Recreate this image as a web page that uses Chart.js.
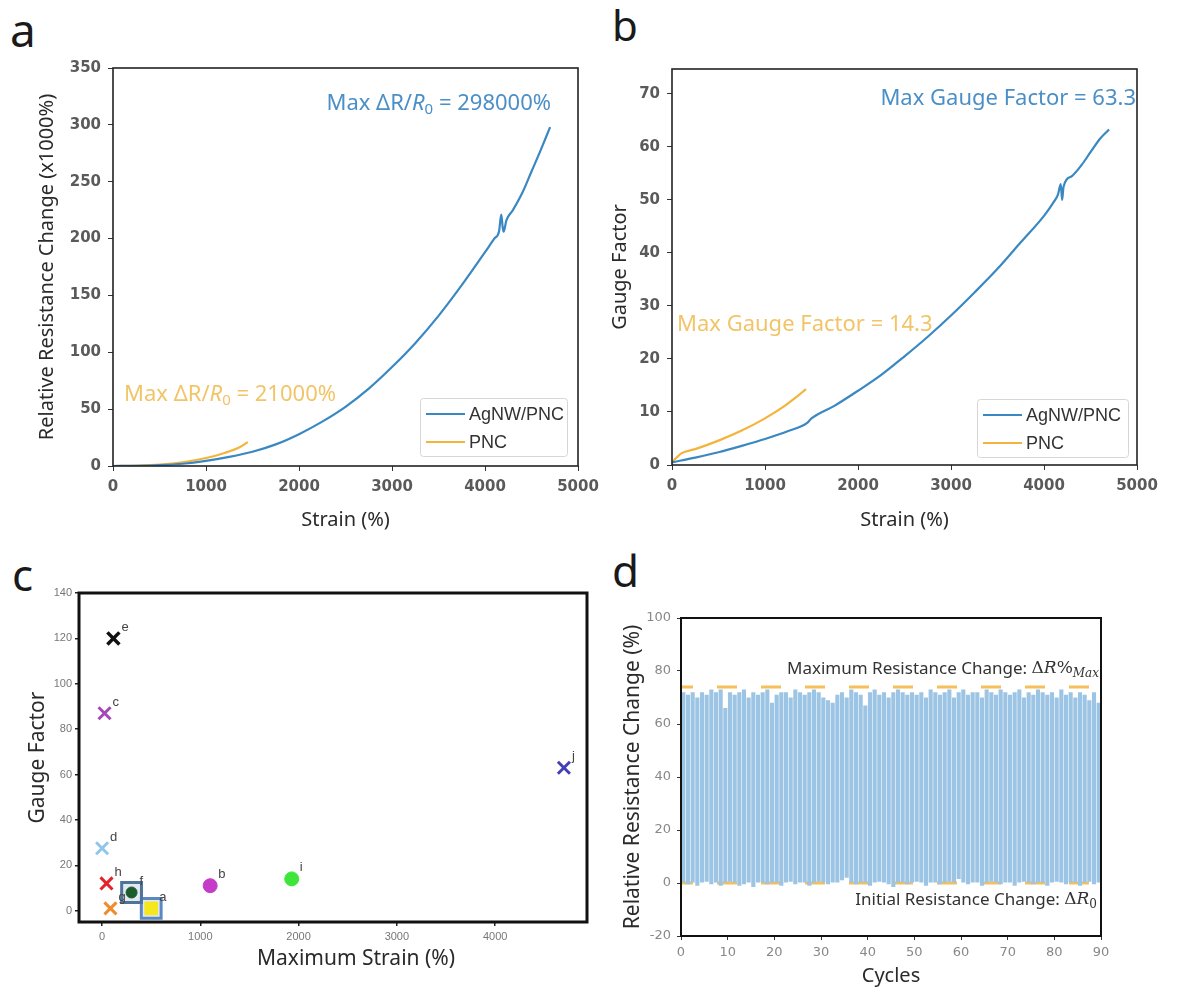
<!DOCTYPE html>
<html>
<head>
<meta charset="utf-8">
<script src="https://cdn.jsdelivr.net/npm/chart.js@4.4.1/dist/chart.umd.min.js"></script>
<style>
  html, body { margin: 0; padding: 0; background: #fff; }
  #page { position: relative; width: 1184px; height: 992px; overflow: hidden; background: #fff; }
  #page canvas { position: absolute; }
  .letter { position: absolute; font-family: "Noto Sans", sans-serif; color: #1a1a1a; line-height: 1; }
</style>
</head>
<body>
<div id="page">
  <div class="letter" style="left:10px;top:6px;font-size:46px;">a</div>
  <div class="letter" style="left:612px;top:4px;font-size:42px;">b</div>
  <div class="letter" style="left:12px;top:552px;font-size:44px;">c</div>
  <div class="letter" style="left:612px;top:548px;font-size:44px;">d</div>
  <canvas id="chartA" width="610" height="540" style="left:0;top:0;"></canvas>
  <canvas id="chartB" width="588" height="540" style="left:596px;top:0;"></canvas>
  <canvas id="chartC" width="604" height="432" style="left:0;top:560px;"></canvas>
  <canvas id="chartD" width="588" height="432" style="left:596px;top:560px;"></canvas>
</div>
<script>
// ---- panel a: relative resistance change (x1000%) vs strain (%)
const aStrainAg = [0, 250, 500, 750, 1000, 1250, 1500, 1750, 2000, 2250, 2500, 2750, 3000, 3250, 3500, 3750, 4000, 4100, 4150, 4175, 4190, 4200, 4230, 4300, 4400, 4500, 4600, 4700];
const aRelAg = [0, 0.2, 0.8, 2, 4.5, 8, 12.5, 19, 28, 39, 52, 68, 87, 108, 132, 159, 188, 200, 206, 221, 210, 206, 216, 225, 240, 259, 278, 298];
const aStrainPnc = [0, 250, 500, 750, 1000, 1200, 1350, 1450];
const aRelPnc = [0, 0.3, 1.2, 3.3, 7, 11.5, 16, 21];
const aXTicks = [0, 1000, 2000, 3000, 4000, 5000];
const aYTicks = [0, 50, 100, 150, 200, 250, 300, 350];

// ---- panel b: gauge factor vs strain (%)
const bStrainAg = [0, 250, 500, 750, 1000, 1250, 1450, 1500, 1750, 2000, 2250, 2500, 2750, 3000, 3250, 3500, 3750, 4000, 4100, 4150, 4180, 4195, 4210, 4300, 4400, 4500, 4600, 4700];
const bGfAg = [0.5, 1.4, 2.4, 3.6, 4.9, 6.4, 7.9, 8.8, 11.2, 14, 17, 20.5, 24.2, 28.2, 32.5, 37, 42, 47, 49.5, 51, 53, 50, 52.5, 54.5, 56.5, 59, 61.5, 63.3];
const bStrainPnc = [0, 50, 100, 250, 500, 750, 1000, 1200, 1350, 1440];
const bGfPnc = [0.5, 1.4, 2.2, 3, 4.6, 6.5, 8.8, 11, 13, 14.3];
const bXTicks = [0, 1000, 2000, 3000, 4000, 5000];
const bYTicks = [0, 10, 20, 30, 40, 50, 60, 70];

// ---- panel c: gauge factor vs maximum strain, literature comparison
const cLabels = ["a", "b", "c", "d", "e", "f", "g", "h", "i", "j"];
const cStrain = [500, 1100, 25, 0, 115, 300, 85, 45, 1930, 4700];
const cGauge = [1, 11, 87, 27.5, 120, 8, 1, 12, 14, 63];
const cXTicks = [0, 1000, 2000, 3000, 4000];
const cYTicks = [0, 20, 40, 60, 80, 100, 120, 140];

// ---- panel d: cyclic relative resistance change (%), per-cycle peak and valley
const dPeaks = [72, 71, 72, 70, 72, 71, 73, 72, 73, 66, 72, 71, 72, 73, 70, 72, 71, 72, 73, 68,
  71, 72, 72, 70, 73, 72, 71, 72, 73, 72, 70, 69, 68, 71, 72, 70, 73, 72, 71, 67,
  72, 73, 71, 72, 70, 72, 73, 72, 71, 72, 71, 72, 70, 73, 72, 71, 72, 73, 70, 72,
  73, 71, 72, 72, 70, 73, 72, 71, 73, 72, 71, 72, 73, 70, 72, 71, 73, 72, 71, 72,
  70, 73, 71, 72, 70, 72, 71, 69, 72, 68];
const dValleys = [0, -0.5, 0, -1, 0, 0.5, -0.5, 0, -1, 0, 0.5, 0, -1, -0.5, 0, -1.5, 0, 0, -0.5, 0,
  0, -1, 0, 0.5, -0.5, 0, 0, -1, 0, 0.5, 0, -0.5, 0, 0, 1, 2, 0, -0.5, 0, 0,
  -1, 0, 0.5, 0, -0.5, -1.5, 0, 0, -0.5, 0, 0.5, 0, -1, 0, 0, -0.5, 0, 0.5, 0, 1.5,
  0, -0.5, 0, 0, -1, 0, 0.5, 0, -0.5, 0, 0, -1, 0, 0.5, 0, -0.5, 0, 0, -1, 0,
  0.5, 0, -0.5, 0, 0, -1, 0, 0.5, -0.5, 0];
const dMaxLevel = 74;
const dInitLevel = 0;
const dXTicks = [0, 10, 20, 30, 40, 50, 60, 70, 80, 90];
const dYTicks = [-20, 0, 20, 40, 60, 80, 100];

const BLUE = "#3a88c2";
const ORANGE = "#f4b43c";
const SANS = '"Noto Sans", sans-serif';

function zip(xs, ys) {
  return xs.map((x, i) => ({ x: x, y: ys[i] }));
}

function fixedTicks(list) {
  return (scale) => { scale.ticks = list.map((v) => ({ value: v })); };
}

const plainLabel = (v) => String(v);

function framePlugin(color, width) {
  return {
    id: "frame",
    afterDraw(chart) {
      const { ctx, chartArea: c } = chart;
      ctx.save();
      ctx.strokeStyle = color;
      ctx.lineWidth = width;
      ctx.strokeRect(c.left, c.top, c.right - c.left, c.bottom - c.top);
      ctx.restore();
    },
  };
}

// draws a run of differently styled text pieces (used for R0 subscripts etc.)
function drawRich(ctx, parts, x, y, align) {
  let total = 0;
  parts.forEach((p) => { ctx.font = p.font; p.w = ctx.measureText(p.t).width; total += p.w; });
  let cx = align === "right" ? x - total : x;
  ctx.textBaseline = "middle";
  ctx.textAlign = "left";
  parts.forEach((p) => {
    ctx.font = p.font;
    ctx.fillStyle = p.color;
    ctx.fillText(p.t, cx, y + (p.dy || 0));
    cx += p.w;
  });
}

function maxRParts(value, color) {
  return [
    { t: "Max ΔR/", font: "22px " + SANS, color: color },
    { t: "R", font: "italic 22px " + SANS, color: color },
    { t: "0", font: "15px " + SANS, color: color, dy: 6 },
    { t: " = " + value, font: "22px " + SANS, color: color },
  ];
}

function legendPlugin(rightGap, bottomGap, boxW) {
  return {
    id: "boxLegend",
    afterDraw(chart) {
      const { ctx, chartArea: c } = chart;
      const right = c.right - rightGap;
      const bottom = c.bottom - bottomGap;
      const left = right - boxW;
      const top = bottom - 58;
      ctx.save();
      ctx.fillStyle = "rgba(255,255,255,0.9)";
      ctx.strokeStyle = "#d6d6d6";
      ctx.lineWidth = 1;
      ctx.beginPath();
      ctx.roundRect(left + 0.5, top + 0.5, boxW, 58, 3);
      ctx.fill();
      ctx.stroke();
      chart.data.datasets.forEach((ds, i) => {
        const y = top + 16 + i * 28;
        ctx.strokeStyle = ds.borderColor;
        ctx.lineWidth = 2.2;
        ctx.beginPath();
        ctx.moveTo(left + 6, y);
        ctx.lineTo(left + 45, y);
        ctx.stroke();
        ctx.fillStyle = "#333";
        ctx.font = '18px "Liberation Sans", Arial, sans-serif';
        ctx.textBaseline = "middle";
        ctx.textAlign = "left";
        ctx.fillText(ds.label, left + 49, y + 1);
      });
      ctx.restore();
    },
  };
}

function strainScales(xTicks, yTicks, yMax, yWidth, xHeight, yTitle, yTitlePad) {
  const tickFont = { family: '"DejaVu Sans", sans-serif', size: 15, weight: "bold" };
  const grid = { display: true, drawOnChartArea: false, drawTicks: true, tickLength: 5, color: "#333" };
  return {
    x: {
      type: "linear", min: 0, max: 5000,
      afterBuildTicks: fixedTicks(xTicks),
      afterFit: (s) => { s.height = xHeight; },
      grid: grid, border: { display: false },
      ticks: { color: "#5a5a5a", font: tickFont, padding: 7, maxRotation: 0, callback: plainLabel },
      title: { display: true, text: "Strain (%)", color: "#2a2a2a", font: { family: SANS, size: 20 }, padding: { top: 0, bottom: 8 } },
    },
    y: {
      type: "linear", min: 0, max: yMax,
      afterBuildTicks: fixedTicks(yTicks),
      afterFit: (s) => { s.width = yWidth; },
      grid: grid, border: { display: false },
      ticks: { color: "#5a5a5a", font: tickFont, padding: 7, callback: plainLabel },
      title: { display: true, text: yTitle, color: "#2a2a2a", font: { family: SANS, size: 20 }, padding: { top: yTitlePad, bottom: 0 } },
    },
  };
}

function lineSet(label, data, color) {
  return {
    label: label, data: data, borderColor: color, backgroundColor: color,
    borderWidth: 2.2, pointRadius: 0, cubicInterpolationMode: "monotone",
  };
}

// ---------------- panel a
new Chart(document.getElementById("chartA"), {
  type: "line",
  data: {
    datasets: [
      lineSet("AgNW/PNC", zip(aStrainAg, aRelAg), BLUE),
      lineSet("PNC", zip(aStrainPnc, aRelPnc), ORANGE),
    ],
  },
  options: {
    responsive: false, animation: false, events: [],
    layout: { padding: { left: 0, top: 68, right: 32, bottom: 0 } },
    scales: strainScales(aXTicks, aYTicks, 350, 113, 74, "Relative Resistance Change (x1000%)", 35),
    plugins: { legend: { display: false }, tooltip: { enabled: false } },
  },
  plugins: [
    framePlugin("#222", 1.6),
    legendPlugin(11, 10, 147),
    {
      id: "notes",
      afterDraw(chart) {
        const ctx = chart.ctx;
        ctx.save();
        drawRich(ctx, maxRParts("298000%", "#4b8fc6"), 551, 104, "right");
        drawRich(ctx, maxRParts("21000%", "#f2c468"), 124, 395, "left");
        ctx.restore();
      },
    },
  ],
});

// ---------------- panel b
new Chart(document.getElementById("chartB"), {
  type: "line",
  data: {
    datasets: [
      lineSet("AgNW/PNC", zip(bStrainAg, bGfAg), BLUE),
      lineSet("PNC", zip(bStrainPnc, bGfPnc), ORANGE),
    ],
  },
  options: {
    responsive: false, animation: false, events: [],
    layout: { padding: { left: 0, top: 69, right: 47, bottom: 0 } },
    scales: strainScales(bXTicks, bYTicks, 74.7, 76, 75, "Gauge Factor", 12),
    plugins: { legend: { display: false }, tooltip: { enabled: false } },
  },
  plugins: [
    framePlugin("#222", 1.6),
    legendPlugin(9, 8, 151),
    {
      id: "notes",
      afterDraw(chart) {
        const ctx = chart.ctx;
        ctx.save();
        ctx.font = "22px " + SANS;
        ctx.textBaseline = "middle";
        ctx.textAlign = "right";
        ctx.fillStyle = "#4b8fc6";
        ctx.fillText("Max Gauge Factor = 63.3", 540, 99);
        ctx.textAlign = "left";
        ctx.fillStyle = "#f2c468";
        ctx.fillText("Max Gauge Factor = 14.3", 81, 325);
        ctx.restore();
      },
    },
  ],
});

// ---------------- panel c
const cStyle = {
  a: { pointStyle: "rect", radius: 9, bg: "#f4e71d", border: "#f4e71d", bw: 1 },
  b: { pointStyle: "circle", radius: 7, bg: "#c53cc9", border: "#c53cc9", bw: 1 },
  c: { pointStyle: "crossRot", radius: 8.5, bg: "#a548b8", border: "#a548b8", bw: 3 },
  d: { pointStyle: "crossRot", radius: 8.5, bg: "#8fc6ea", border: "#8fc6ea", bw: 3 },
  e: { pointStyle: "crossRot", radius: 8.5, bg: "#111", border: "#111", bw: 3.5 },
  f: { pointStyle: "circle", radius: 5.5, bg: "#1e5b2c", border: "#1e5b2c", bw: 1 },
  g: { pointStyle: "crossRot", radius: 8.5, bg: "#f08c2c", border: "#f08c2c", bw: 3 },
  h: { pointStyle: "crossRot", radius: 8.5, bg: "#e3232c", border: "#e3232c", bw: 3 },
  i: { pointStyle: "circle", radius: 7, bg: "#3ee63a", border: "#3ee63a", bw: 1 },
  j: { pointStyle: "crossRot", radius: 8.5, bg: "#4141b5", border: "#4141b5", bw: 3 },
};

const cDatasets = cLabels.map((lab, i) => {
  const s = cStyle[lab];
  return {
    label: lab,
    data: [{ x: cStrain[i], y: cGauge[i] }],
    pointStyle: s.pointStyle, pointRadius: s.radius,
    pointBackgroundColor: s.bg, pointBorderColor: s.border, pointBorderWidth: s.bw,
    clip: false, order: 1,
  };
});
// outline squares drawn behind points f and a
["f", "a"].forEach((lab) => {
  const k = cLabels.indexOf(lab);
  cDatasets.push({
    label: lab + "-box",
    data: [{ x: cStrain[k], y: cGauge[k] }],
    pointStyle: "rect", pointRadius: 14,
    pointBackgroundColor: "rgba(170,192,215,0.35)", pointBorderColor: lab === "f" ? "#4e7499" : "#5b87c2",
    pointBorderWidth: 3, clip: false, order: 2,
  });
});

new Chart(document.getElementById("chartC"), {
  type: "scatter",
  data: { datasets: cDatasets },
  options: {
    responsive: false, animation: false, events: [],
    layout: { padding: { left: 0, top: 33, right: 7, bottom: 0 } },
    scales: {
      x: {
        type: "linear", min: -235, max: 4935,
        afterBuildTicks: fixedTicks(cXTicks),
        afterFit: (s) => { s.height = 70; },
        grid: { display: true, drawOnChartArea: false, tickLength: 4, color: "#222", lineWidth: 1.5 },
        border: { display: false },
        ticks: { color: "#777", font: { family: '"Liberation Sans", Arial, sans-serif', size: 11 }, padding: 4, callback: plainLabel },
        title: { display: false },
      },
      y: {
        type: "linear", min: -5, max: 140,
        afterBuildTicks: fixedTicks(cYTicks),
        afterFit: (s) => { s.width = 79; },
        grid: { display: true, drawOnChartArea: false, tickLength: 4, color: "#222", lineWidth: 1.5 },
        border: { display: false },
        ticks: { color: "#777", font: { family: '"Liberation Sans", Arial, sans-serif', size: 11 }, padding: 3, callback: plainLabel },
        title: { display: true, text: "Gauge Factor", color: "#2a2a2a", font: { family: SANS, size: 21 }, padding: { top: 25, bottom: 0 } },
      },
    },
    plugins: { legend: { display: false }, tooltip: { enabled: false } },
  },
  plugins: [
    framePlugin("#111", 3),
    {
      id: "pointLetters",
      afterDatasetsDraw(chart) {
        const ctx = chart.ctx;
        ctx.save();
        ctx.font = '13px "Liberation Sans", Arial, sans-serif';
        ctx.fillStyle = "#444";
        ctx.textBaseline = "middle";
        ctx.textAlign = "left";
        cLabels.forEach((lab, i) => {
          const pt = chart.getDatasetMeta(i).data[0];
          ctx.fillText(lab, pt.x + 8, pt.y - 11);
        });
        ctx.restore();
      },
      afterDraw(chart) {
        const ctx = chart.ctx;
        ctx.save();
        ctx.font = "21px " + SANS;
        ctx.fillStyle = "#2a2a2a";
        ctx.textAlign = "center";
        ctx.textBaseline = "middle";
        ctx.fillText("Maximum Strain (%)", 356, 399);
        ctx.restore();
      },
    },
  ],
});

// ---------------- panel d
const dBars = dPeaks.map((p, i) => ({ x: i + 0.5, y: [dValleys[i], p] }));

new Chart(document.getElementById("chartD"), {
  data: {
    datasets: [
      {
        type: "bar", label: "cycles", data: dBars,
        backgroundColor: "#9cc4e4", borderWidth: 0,
        barPercentage: 0.88, categoryPercentage: 1, order: 1,
      },
      {
        type: "line", label: "max", data: [{ x: 0, y: dMaxLevel }, { x: 90, y: dMaxLevel }],
        borderColor: "rgba(244,180,60,0.85)", borderWidth: 3, borderDash: [20, 24], borderDashOffset: 8,
        pointRadius: 0, order: 2,
      },
      {
        type: "line", label: "initial", data: [{ x: 0, y: dInitLevel }, { x: 90, y: dInitLevel }],
        borderColor: "rgba(244,180,60,0.85)", borderWidth: 3, borderDash: [20, 24], borderDashOffset: 8,
        pointRadius: 0, order: 2,
      },
    ],
  },
  options: {
    responsive: false, animation: false, events: [],
    layout: { padding: { left: 0, top: 58, right: 83, bottom: 0 } },
    scales: {
      x: {
        type: "linear", min: 0, max: 90, offset: false,
        afterBuildTicks: fixedTicks(dXTicks),
        afterFit: (s) => { s.height = 56; },
        grid: { display: true, drawOnChartArea: false, offset: false, tickLength: 4, color: "#333" },
        border: { display: false },
        ticks: { color: "#888", font: { family: '"DejaVu Sans", sans-serif', size: 13 }, padding: 5 },
        title: { display: true, text: "Cycles", color: "#2a2a2a", font: { family: SANS, size: 20 }, padding: { top: 0, bottom: 4 } },
      },
      y: {
        type: "linear", min: -20, max: 100,
        afterBuildTicks: fixedTicks(dYTicks),
        afterFit: (s) => { s.width = 85; },
        grid: { display: true, drawOnChartArea: false, tickLength: 4, color: "#333" },
        border: { display: false },
        ticks: { color: "#888", font: { family: '"DejaVu Sans", sans-serif', size: 13 }, padding: 6 },
        title: { display: true, text: "Relative Resistance Change (%)", color: "#2a2a2a", font: { family: SANS, size: 21 }, padding: { top: 24, bottom: 0 } },
      },
    },
    plugins: { legend: { display: false }, tooltip: { enabled: false } },
  },
  plugins: [
    framePlugin("#111", 2),
    {
      id: "notes",
      afterDraw(chart) {
        const ctx = chart.ctx;
        const serif = '"DejaVu Serif", serif';
        ctx.save();
        drawRich(ctx, [
          { t: "Maximum Resistance Change: ", font: "17px " + SANS, color: "#333" },
          { t: "Δ", font: "17px " + serif, color: "#333" },
          { t: "R", font: "italic 17px " + serif, color: "#333" },
          { t: "%", font: "17px " + serif, color: "#333" },
          { t: "Max", font: "italic 12px " + serif, color: "#333", dy: 5 },
        ], 503, 109, "right");
        drawRich(ctx, [
          { t: "Initial Resistance Change: ", font: "17px " + SANS, color: "#333" },
          { t: "Δ", font: "17px " + serif, color: "#333" },
          { t: "R", font: "italic 17px " + serif, color: "#333" },
          { t: "0", font: "12px " + serif, color: "#333", dy: 5 },
        ], 501, 340, "right");
        ctx.restore();
      },
    },
  ],
});
</script>
</body>
</html>
